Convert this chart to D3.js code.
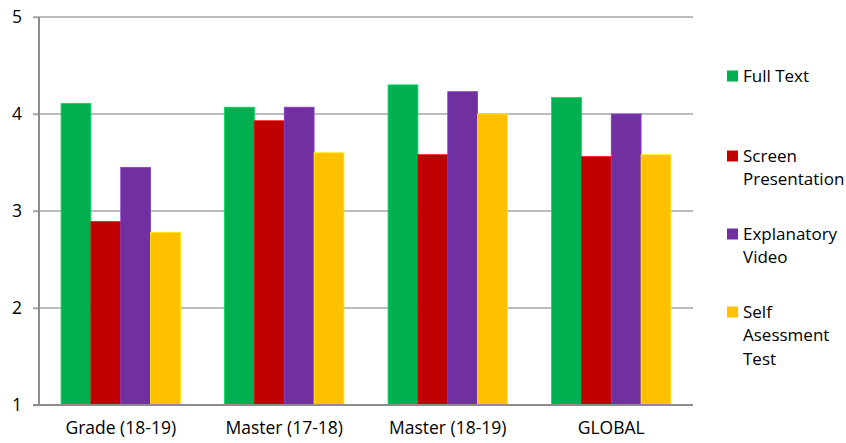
<!DOCTYPE html>
<html><head><meta charset="utf-8">
<script src="https://cdn.jsdelivr.net/npm/d3@7"></script>
<style>body{margin:0;background:#fff}svg{display:block}text{font-family:"Open Sans",sans-serif;fill:#000}</style>
</head><body>
<svg id="c" width="846" height="443"></svg>
<script>
const categories = ["Grade (18-19)", "Master (17-18)", "Master (18-19)", "GLOBAL"];
const seriesNames = ["Full Text", "Screen Presentation", "Explanatory Video", "Self Asessment Test"];
const legendLines = [["Full Text"], ["Screen", "Presentation"], ["Explanatory", "Video"], ["Self", "Asessment", "Test"]];
const fullText = [4.11, 4.07, 4.30, 4.17];
const screenPresentation = [2.89, 3.93, 3.58, 3.56];
const explanatoryVideo = [3.45, 4.07, 4.23, 4.00];
const selfAssessment = [2.78, 3.60, 4.00, 3.58];
const yTicks = [1, 2, 3, 4, 5];
const colors = ["#00B050", "#C00000", "#7030A0", "#FFC000"];

(function () {
const series = [fullText, screenPresentation, explanatoryVideo, selfAssessment];
const svg = d3.select("#c");
const mLeft = 39, mRight = 693, mTop = 17, mBottom = 405;

const x = d3.scaleBand().domain(categories).range([mLeft, mRight]).paddingInner(0.27).paddingOuter(0.135);
const xs = d3.scaleBand().domain(d3.range(4)).range([0, x.bandwidth()]);
const y = d3.scaleLinear().domain([1, 5]).range([mBottom, mTop]);

svg.append("g").selectAll("line").data(yTicks.filter(d => d > 1)).join("line")
  .attr("x1", mLeft - 6).attr("x2", mRight).attr("y1", d => y(d)).attr("y2", d => y(d))
  .attr("stroke", "#a6a6a6").attr("stroke-width", 1.5);

const g = svg.append("g");
categories.forEach((c, ci) => {
  series.forEach((s, si) => {
    g.append("rect")
      .attr("x", x(c) + xs(si)).attr("width", xs.bandwidth())
      .attr("y", y(s[ci])).attr("height", y(1) - y(s[ci]))
      .attr("fill", colors[si])
      .attr("stroke", d3.color(colors[si]).brighter(0.6)).attr("stroke-width", 0.8);
  });
});

const yAxis = d3.axisLeft(y).tickValues(yTicks).tickSize(6).tickFormat(d3.format("d"));
const ya = svg.append("g").attr("transform", `translate(${mLeft},0)`).call(yAxis);
ya.select(".domain").remove();
ya.selectAll(".tick line").attr("stroke", "#a6a6a6").attr("stroke-width", 1.5);
ya.selectAll(".tick text").attr("x", -17).attr("font-size", 17.5).attr("font-family", "Open Sans").attr("fill", "#000");
svg.append("line").attr("x1", mLeft).attr("x2", mLeft).attr("y1", mTop).attr("y2", mBottom)
  .attr("stroke", "#8c8c8c").attr("stroke-width", 2);

const xAxis = d3.axisBottom(x).tickSize(0).tickPadding(17);
const xa = svg.append("g").attr("transform", `translate(0,${mBottom})`).call(xAxis);
xa.select(".domain").attr("stroke", "#8c8c8c").attr("stroke-width", 2).attr("d", `M${mLeft - 6},0H${mRight}`);
xa.selectAll(".tick text").attr("font-size", 17.5).attr("font-family", "Open Sans").attr("fill", "#000");

const lg = svg.append("g");
const entryY = [76, 156, 234, 312];
legendLines.forEach((lines, i) => {
  const cy = entryY[i];
  lg.append("rect").attr("x", 727).attr("y", cy - 5.5).attr("width", 11).attr("height", 11).attr("fill", colors[i]);
  lines.forEach((t, j) => {
    lg.append("text").attr("x", 743).attr("y", cy + j * 23.5).attr("dy", "0.35em")
      .attr("font-size", 17).text(t);
  });
});
})();
</script>
</body></html>
